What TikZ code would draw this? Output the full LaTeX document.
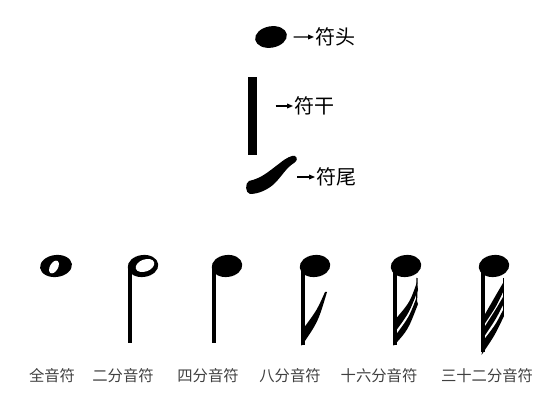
\documentclass[tikz,border=0pt]{standalone}
\usepackage{fontspec}
\newfontfamily\cjk{Noto Sans CJK SC}
\usetikzlibrary{arrows.meta,shapes.geometric}

\begin{document}
\begin{tikzpicture}[x=0.75pt,y=-0.75pt,
  notehead/.style={ellipse, fill, inner sep=0pt, minimum width=23pt, minimum height=16.5pt, rotate=7},
  hole/.style={ellipse, fill=white, inner sep=0pt},
  stem/.style={line width=3.3pt},
  lbl/.style={font=\cjk\fontsize{11.5}{12}\selectfont, text=black!75, inner sep=0pt},
  part/.style={font=\cjk\fontsize{15}{16}\selectfont, inner sep=1pt, anchor=west},
  pointer/.style={-{Triangle[length=4.5pt,width=3.6pt]}, line width=0.8pt}]
\useasboundingbox (0,0) rectangle (554,417);

% parts of a note
\node[notehead, minimum width=24pt, minimum height=16pt, rotate=3] (tophead) at (271,37) {};
\node[fill, inner sep=0pt, minimum width=6.4pt, minimum height=58.5pt] (topstem) at (252.5,116) {};
\fill (249,181) .. controls (262,178) and (268,172) .. (280,163)
  .. controls (286,158) and (292,155) .. (295,156)
  .. controls (298,158) and (297,161) .. (294,163)
  .. controls (286,168) and (282,176) .. (275,183)
  .. controls (268,190) and (258,194) .. (250,194)
  .. controls (245,193) and (245,183) .. (249,181) -- cycle;
\coordinate (topflag) at (297,177);

\node[part] (lblhead) at (314,37) {符头};
\node[part] (lblstem) at (293,106) {符干};
\node[part] (lblflag) at (315,177) {符尾};

\draw[pointer, shorten <=5pt] (tophead) -- (lblhead);
\draw[pointer, shorten <=14pt] (topstem.east |- lblstem.west) -- (lblstem.west);
\draw[pointer] (topflag) -- (lblflag);

% whole note
\node[notehead, minimum width=24pt] (whole) at (56,266) {};
\node[hole, minimum width=6pt, minimum height=10.5pt, rotate=-30] (wholehole) at (54,267) {};

% half note
\node[notehead] (half) at (143,266) {};
\node[hole, minimum width=14.5pt, minimum height=9pt, rotate=20] (halfhole) at (145,265.5) {};
\draw[stem] (130,268) -- (130,343);

% quarter note
\node[notehead] (quarter) at (227,266) {};
\draw[stem] (214,268) -- (214,343);

% eighth note
\node[notehead] (eighth) at (315,266) {};
\draw[stem] (303,268) -- (303,345);
\fill (301.5,346) .. controls (318,322) .. (327,292) -- (325,292) .. controls (317,310) .. (304.5,327) -- cycle;

% sixteenth note
\node[notehead] (sixteenth) at (406,266) {};
\draw[stem] (395,268) -- (395,345);
\fill (393.5,346) .. controls (408,330) .. (418,304) -- (416,299) .. controls (409,317) .. (396.5,334) -- cycle;
\fill (396.5,330) .. controls (409,313) .. (418,290) -- (417,282) .. controls (410,302) .. (396.5,318) -- cycle;
\draw[line width=0.9pt] (417,278) -- (416.5,306);

% thirty-second note
\node[notehead] (thirtysecond) at (494,266) {};
\draw[stem] (483,268) -- (483,352);
\fill (481.5,355) .. controls (495,335) .. (504,316) -- (503,310) .. controls (496,324) .. (484.5,339) -- cycle;
\fill (484.5,336) .. controls (496,319) .. (504,303) -- (503,297) .. controls (496,309) .. (484.5,327) -- cycle;
\fill (484.5,324) .. controls (496,307) .. (504,290) -- (503,283) .. controls (496,295) .. (484.5,315) -- cycle;
\draw[line width=0.9pt] (503.5,278) -- (503.5,316);

% names
\node[lbl] (lblwhole) at (52,376) {全音符};
\node[lbl] (lblhalf) at (123,376) {二分音符};
\node[lbl] (lblquarter) at (208,376) {四分音符};
\node[lbl] (lbleighth) at (290,376) {八分音符};
\node[lbl] (lblsixteenth) at (379,376) {十六分音符};
\node[lbl] (lblthirtysecond) at (487,376) {三十二分音符};
\end{tikzpicture}
\end{document}
